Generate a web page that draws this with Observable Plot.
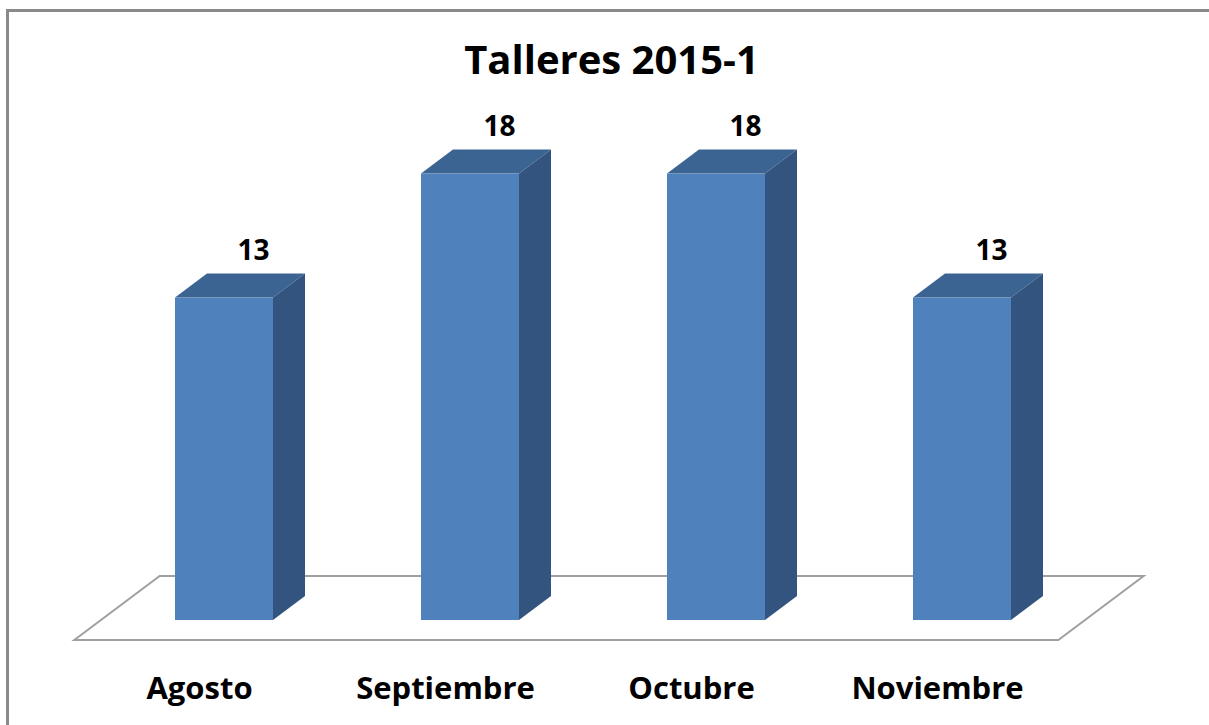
<!DOCTYPE html>
<html>
<head>
<meta charset="utf-8">
<script src="https://cdn.jsdelivr.net/npm/d3@7"></script>
<script src="https://cdn.jsdelivr.net/npm/@observablehq/plot@0.6"></script>
<style>
  html, body { margin: 0; padding: 0; background: #fff; }
  #wrap { position: relative; width: 1209px; height: 725px; overflow: hidden; }
  #border { position: absolute; left: 6px; top: 9px; width: 1400px; height: 900px;
            border-left: 3px solid #8a8a8a; border-top: 3px solid #8a8a8a; box-sizing: border-box; }
  #chart { position: absolute; left: 0; top: 0; }
  #chart svg text { font-family: "Open Sans", sans-serif; font-weight: bold; }
</style>
</head>
<body>
<div id="wrap"><div id="border"></div><div id="chart"></div></div>
<script>
const title = "Talleres 2015-1";
const months = ["Agosto", "Septiembre", "Octubre", "Noviembre"];
const talleres = [13, 18, 18, 13];
const data = months.map((m, i) => ({month: m, value: talleres[i]}));

const frontColor = "#4f81bd";
const topColor = "#3c6492";
const sideColor = "#32547f";
const depthX = 32, depthY = 24;

function floorMark(index, scales, values, dims) {
  const [r0, r1] = scales.x.range();
  const y0 = scales.y(0);
  const fx = -depthX * 20 / 24, fy = 20;
  const bx = depthX * 44 / 24, by = -44;
  const pts = [[r0 + fx, y0 + fy], [r1 + fx, y0 + fy], [r1 + bx, y0 + by], [r0 + bx, y0 + by]];
  const p = document.createElementNS("http://www.w3.org/2000/svg", "path");
  p.setAttribute("d", "M" + pts.map(q => q.join(",")).join("L") + "Z");
  p.setAttribute("fill", "#fff");
  p.setAttribute("stroke", "#a0a0a0");
  p.setAttribute("stroke-width", "2");
  return p;
}

function boxMark(index, scales, values, dims) {
  const g = document.createElementNS("http://www.w3.org/2000/svg", "g");
  const bw = scales.x.bandwidth();
  const y0 = scales.y(0);
  for (const d of data) {
    const xl = scales.x(d.month), xr = xl + bw, yt = scales.y(d.value);
    const faces = [
      {pts: [[xl, yt], [xr, yt], [xr + depthX, yt - depthY], [xl + depthX, yt - depthY]], fill: topColor},
      {pts: [[xr, yt], [xr, y0], [xr + depthX, y0 - depthY], [xr + depthX, yt - depthY]], fill: sideColor}
    ];
    for (const f of faces) {
      const p = document.createElementNS("http://www.w3.org/2000/svg", "path");
      p.setAttribute("d", "M" + f.pts.map(q => q.join(",")).join("L") + "Z");
      p.setAttribute("fill", f.fill);
      g.appendChild(p);
    }
  }
  return g;
}

const chart = Plot.plot({
  width: 1209,
  height: 725,
  marginLeft: 101,
  marginRight: 124,
  marginTop: 124,
  marginBottom: 105,
  x: {type: "band", domain: months, paddingInner: 0.6, paddingOuter: 0.3, axis: null, label: null},
  y: {domain: [0, 20], axis: null, label: null},
  style: {fontFamily: "Open Sans, sans-serif", fontWeight: "bold", color: "black", background: "transparent"},
  marks: [
    floorMark,
    Plot.barY(data, {x: "month", y: "value", fill: frontColor}),
    boxMark,
    Plot.text(data, {x: "month", y: "value", text: d => String(d.value), dx: 29, dy: -38,
      lineAnchor: "bottom", fontSize: 28, fontWeight: "bold", fill: "black"}),
    Plot.axisX({tickSize: 0, tickPadding: 0, dy: 56, dx: -25, label: null, fontSize: 31, fontWeight: "bold", fill: "black"}),
    Plot.text([title], {text: d => d, frameAnchor: "top", dx: 18, dy: -51, lineAnchor: "bottom",
      fontSize: 40, fontWeight: "bold", fill: "black"})
  ]
});
document.getElementById("chart").appendChild(chart);
</script>
</body>
</html>
